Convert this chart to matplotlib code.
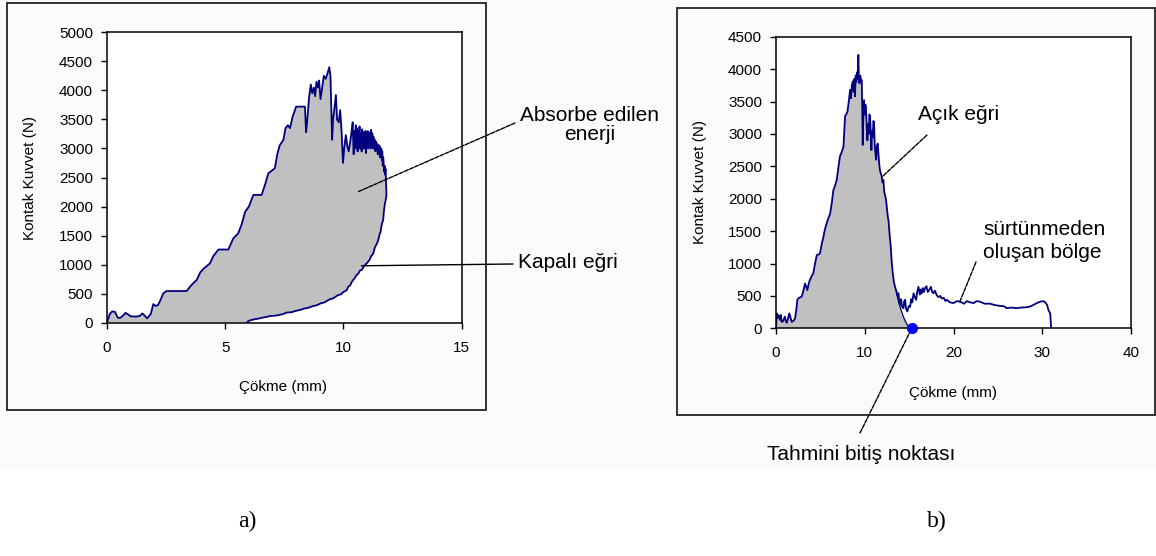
#!/usr/bin/env python3
"""Contact force vs. deflection curves: closed (a) and open (b) impact responses."""
import numpy as np
import matplotlib
matplotlib.use("Agg")  # headless backend
import matplotlib.pyplot as plt
from matplotlib.patches import Rectangle

# ---- panel a: closed curve (loading then unloading) ----
a_x_load = [0, 0.12, 0.22, 0.34, 0.45, 0.55, 0.7, 0.78, 0.9, 1.0, 1.25, 1.4, 1.5, 1.6, 1.7,
            1.85, 1.96, 2.05, 2.15, 2.25, 2.38, 2.52, 3.37, 3.55, 3.79, 3.95, 4.1, 4.35, 4.5,
            4.71, 5.13, 5.34, 5.55, 5.7, 5.84, 6.0, 6.19, 6.54, 6.7, 6.82, 7.1, 7.2, 7.3, 7.46,
            7.55, 7.65, 7.74, 7.85, 8.0, 8.37, 8.42, 8.47, 8.55, 8.62, 8.68, 8.75, 8.8, 8.86,
            8.92, 8.97, 9.03, 9.1, 9.17, 9.25, 9.33, 9.4, 9.45, 9.52, 9.56, 9.62, 9.68, 9.73,
            9.8, 9.86, 9.92, 9.98, 10.03, 10.1, 10.16, 10.22, 10.28, 10.33, 10.39, 10.43, 10.47,
            10.5, 10.52, 10.54, 10.56, 10.58, 10.6, 10.63, 10.65, 10.68, 10.7, 10.72, 10.74,
            10.77, 10.79, 10.82, 10.84, 10.86, 10.88, 10.91, 10.93, 10.95, 10.97, 11.0, 11.02,
            11.05, 11.07, 11.1, 11.12, 11.15, 11.17, 11.2, 11.22, 11.25, 11.27, 11.3, 11.32,
            11.35, 11.37, 11.4, 11.42, 11.45, 11.47, 11.5, 11.52, 11.54, 11.56, 11.58, 11.6,
            11.62, 11.64, 11.66, 11.68, 11.7, 11.72, 11.74, 11.76, 11.78, 11.8, 11.82]
a_y_load = [0, 150, 195, 185, 90, 80, 130, 170, 140, 110, 105, 120, 160, 120, 75,
            150, 320, 290, 300, 380, 505, 545, 545, 640, 735, 870, 935, 1020, 1150,
            1260, 1260, 1450, 1540, 1700, 1910, 2000, 2200, 2200, 2400, 2570, 2660, 2900, 3050, 3150,
            3350, 3400, 3350, 3550, 3720, 3720, 3280, 3500, 3900, 4100, 3950, 4050, 3900, 4150,
            4050, 4170, 3850, 4050, 4250, 4200, 4300, 4400, 4250, 3150, 3500, 3700, 3920, 3500,
            3450, 3660, 3300, 2750, 3000, 3230, 3050, 2950, 3100, 3250, 3450, 2900, 3300,
            3050, 3400, 3000, 3350, 3100, 2950, 3300, 3050, 3380, 3000, 3250, 3080,
            2950, 3330, 3100, 3280, 3000, 3200, 3050, 3300, 2920, 3250, 3050, 3300,
            3000, 3280, 3100, 3200, 3000, 3320, 3080, 3260, 3000, 3200, 3050, 3150,
            2950, 3120, 3000, 3080, 2900, 3060, 2950, 3050, 2850, 3000, 2900, 3000,
            2800, 2950, 2700, 2850, 2750, 2600, 2700, 2550, 2650, 2400, 2200]
a_x_unload = [11.78, 11.75, 11.72, 11.7, 11.68, 11.64, 11.6, 11.57, 11.54, 11.47, 11.4, 11.33,
              11.26, 11.18, 11.1, 11.04, 10.98, 10.9, 10.85, 10.78, 10.7, 10.62, 10.55, 10.48,
              10.42, 10.35, 10.28, 10.2, 10.14, 10.0, 9.9, 9.75, 9.57, 9.4, 9.2, 9.05, 8.87, 8.7,
              8.5, 8.35, 8.17, 8.0, 7.8, 7.6, 7.46, 7.3, 7.1, 6.9, 6.75, 6.55, 6.4, 6.19, 6.05,
              5.95, 5.92]
a_y_unload = [2100, 2050, 1950, 1880, 1770, 1720, 1650, 1560, 1540, 1420, 1350, 1300,
              1190, 1150, 1080, 1050, 1020, 990, 960, 910, 900, 840, 820, 770,
              740, 700, 640, 620, 560, 530, 490, 470, 420, 400, 350, 335, 300, 285,
              255, 245, 220, 205, 180, 175, 150, 135, 120, 115, 100, 85, 70, 55, 40,
              20, 0]

# ---- panel b: open curve with friction tail ----
b_x = [0, 0.08, 0.2, 0.3, 0.45, 0.55, 0.64, 0.8, 1.0, 1.1, 1.2, 1.35, 1.5, 1.62, 1.77, 2.0,
       2.14, 2.3, 2.4, 2.6, 2.9, 3.05, 3.27, 3.4, 3.53, 3.7, 3.83, 4.0, 4.2, 4.4, 4.6, 4.8,
       4.96, 5.15, 5.34, 5.5, 5.71, 5.9, 6.1, 6.3, 6.46, 6.65, 6.84, 7.0, 7.2, 7.4, 7.6, 7.7,
       7.78, 7.9, 8.05, 8.2, 8.35, 8.45, 8.55, 8.65, 8.75, 8.82, 8.9, 8.98, 9.05, 9.12, 9.2,
       9.28, 9.33, 9.4, 9.5, 9.58, 9.66, 9.72, 9.77, 9.83, 9.92, 10.0, 10.08, 10.15, 10.22,
       10.3, 10.38, 10.45, 10.52, 10.6, 10.68, 10.75, 10.82, 10.9, 10.98, 11.05, 11.12, 11.2,
       11.28, 11.36, 11.46, 11.54, 11.62, 11.7, 11.8, 11.9, 12.0, 12.1, 12.2, 12.3, 12.4,
       12.5, 12.6, 12.67, 12.8, 12.93, 13.05, 13.16, 13.3, 13.42, 13.55, 13.7, 13.8, 13.9,
       13.98, 14.1, 14.2, 14.36, 14.45, 14.55, 14.65, 14.8, 14.95, 15.1, 15.25, 15.35, 15.5,
       15.65, 15.8, 15.9, 16.05, 16.2, 16.3, 16.43, 16.55, 16.65, 16.8, 16.95, 17.1, 17.3,
       17.45, 17.6, 17.74, 17.9, 18.12, 18.3, 18.5, 18.68, 18.9, 19.1, 19.25, 19.6, 20.0,
       20.4, 20.75, 21.2, 21.5, 21.88, 22.3, 22.6, 23.0, 23.5, 24.14, 24.6, 25.26, 25.7,
       26.0, 26.5, 27.14, 27.6, 28.27, 28.7, 29.0, 29.4, 29.77, 30.1, 30.34, 30.55, 30.7,
       30.9, 31.0]
b_y = [0, 230, 160, 200, 130, 205, 100, 110, 180, 120, 85, 150, 230, 170, 100, 120,
       150, 300, 440, 470, 490, 560, 690, 640, 590, 700, 750, 800, 850, 1000, 1130, 1140,
       1160, 1300, 1410, 1520, 1620, 1700, 1770, 1950, 2130, 2200, 2290, 2450, 2650, 2720, 2800, 3050,
       3270, 3300, 3340, 3500, 3680, 3550, 3750, 3810, 3650, 3850, 3580, 3900, 3800, 3950, 3850,
       4220, 3900, 3780, 3900, 3820, 3830, 3400, 2830, 3200, 3520, 3300, 3450, 3370, 3100,
       2900, 3150, 3000, 3300, 3270, 3000, 2750, 3050, 2950, 3200, 3160, 2850, 2700,
       2600, 2800, 2850, 2700, 2550, 2450, 2390, 2350, 2250, 2290, 2100, 2050, 1980,
       1850, 1720, 1670, 1450, 1260, 1000, 850, 700, 640, 580, 500, 540, 400,
       360, 450, 330, 310, 420, 440, 300, 260, 340, 330, 450, 400, 540,
       480, 440, 560, 640, 520, 600, 540, 620, 560, 620, 650, 560, 600,
       640, 560, 540, 580, 510, 480, 500, 460, 470, 420, 440, 400, 390,
       420, 410, 380, 420, 400, 390, 420, 410, 380, 380, 360, 345, 340,
       310, 320, 310, 320, 325, 340, 360, 390, 410, 420, 400, 360, 280,
       230, 0]
# estimated end of the open curve (Tahmini bitiş)
b_x_est = [13.55, 13.7, 13.85, 14.0, 14.2, 14.35, 14.5, 14.7, 14.9, 15.1, 15.3]
b_y_est = [580, 470, 390, 320, 240, 180, 130, 75, 35, 10, 0]
b_x_end, b_y_end = 15.3, 0

a_xticks = [0, 5, 10, 15]
a_yticks = list(range(0, 5001, 500))
b_xticks = [0, 10, 20, 30, 40]
b_yticks = list(range(0, 4501, 500))

W, H = 1156, 556
LINE = "#000080"
FILL = "#c0c0c0"

plt.rcParams["font.family"] = ["Liberation Sans", "DejaVu Sans"]


def fx(px):
    return px / W


def fy(py):
    return 1 - py / H


def style_axes(ax, xlim, ylim, xticks, yticks):
    ax.set_xlim(*xlim)
    ax.set_ylim(*ylim)
    ax.set_xticks(xticks)
    ax.set_yticks(yticks)
    for s in ax.spines.values():
        s.set_color("black")
        s.set_linewidth(1.1)
    ax.tick_params(axis="both", direction="out", length=4, width=1, labelsize=11,
                   top=False, right=False)
    ax.tick_params(axis="x", pad=9)
    ax.tick_params(axis="y", pad=6)
    ax.set_xlabel("Çökme (mm)", fontsize=11)
    ax.set_ylabel("Kontak Kuvvet (N)", fontsize=11)
    ax.set_facecolor("white")


def leader(ax, xy, px, py):
    ax.annotate("", xy=xy, xycoords="data", xytext=(fx(px), fy(py)),
                textcoords="figure fraction", annotation_clip=False,
                arrowprops=dict(arrowstyle="-", color="black", lw=1.0,
                                linestyle=(0, (3, 1)), shrinkA=0, shrinkB=0))


fig = plt.figure(figsize=(W / 100, H / 100), dpi=100)
fig.patch.set_facecolor("white")
fig.patches.append(Rectangle((0, fy(470)), 1, 1 - fy(470), transform=fig.transFigure,
                             facecolor="#fbfbfb", edgecolor="none", zorder=-5))
# chart frames
fig.patches.append(Rectangle((fx(7), fy(410)), fx(486 - 7), (410 - 3) / H,
                             transform=fig.transFigure, fill=False, ec="#222222", lw=1.3))
fig.patches.append(Rectangle((fx(677), fy(415)), fx(1155 - 677), (415 - 8) / H,
                             transform=fig.transFigure, fill=False, ec="#222222", lw=1.3))

# ---- panel a ----
ax1 = fig.add_axes([fx(107), fy(322.7), fx(461.7 - 107), (322.7 - 32.3) / H])
xa = np.array(a_x_load + a_x_unload)
ya = np.array(a_y_load + a_y_unload)
ax1.fill(xa, ya, color=FILL, lw=0)
ax1.plot(xa, ya, color=LINE, lw=1.3)
style_axes(ax1, (0, 15), (0, 5000), a_xticks, a_yticks)
ax1.yaxis.set_label_coords(-0.197, 0.5)
ax1.xaxis.set_label_coords(0.496, -0.197)

leader(ax1, (10.59, 2250), 515, 123)
ax1.annotate("", xy=(10.76, 980), xycoords="data", xytext=(fx(513), fy(264)),
             textcoords="figure fraction", annotation_clip=False,
             arrowprops=dict(arrowstyle="-", color="black", lw=1.0, shrinkA=0, shrinkB=0))
fig.text(fx(590), fy(125), "Absorbe edilen\nenerji", ha="center", va="center",
         multialignment="center", fontsize=15, linespacing=1.05)
fig.text(fx(518), fy(263), "Kapalı eğri", ha="left", va="center", fontsize=15)

# ---- panel b ----
ax2 = fig.add_axes([fx(776), fy(328.3), fx(1131 - 776), (328.3 - 36.7) / H])
bx = np.array(b_x)
by = np.array(b_y)
mask = bx < b_x_est[0]
fill_x = np.concatenate([bx[mask], b_x_est])
fill_y = np.concatenate([by[mask], b_y_est])
ax2.fill(fill_x, fill_y, color=FILL, lw=0)
ax2.plot(b_x_est, b_y_est, color=LINE, lw=0.9)
ax2.plot(bx, by, color=LINE, lw=1.3)
ax2.plot([b_x_end], [b_y_end], "o", color="#0000ff", ms=7, clip_on=False, zorder=5)
style_axes(ax2, (0, 40), (0, 4500), b_xticks, b_yticks)
ax2.yaxis.set_label_coords(-0.194, 0.5)
ax2.xaxis.set_label_coords(0.499, -0.198)

leader(ax2, (11.94, 2335), 927, 135)
leader(ax2, (20.7, 406), 976, 262)
leader(ax2, (b_x_end, b_y_end), 860, 433)
fig.text(fx(918), fy(115), "Açık eğri", ha="left", va="center", fontsize=15)
fig.text(fx(983), fy(241), "sürtünmeden\noluşan bölge", ha="left", va="center",
         fontsize=15, linespacing=1.25)
fig.text(fx(767), fy(455), "Tahmini bitiş noktası", ha="left", va="center", fontsize=15)

# panel letters
fig.text(fx(247), fy(521), "a)", ha="center", va="center", fontsize=17,
         family=["Liberation Serif", "DejaVu Serif"])
fig.text(fx(937), fy(521), "b)", ha="center", va="center", fontsize=17,
         family=["Liberation Serif", "DejaVu Serif"])

fig.savefig("out.png", dpi=100)
